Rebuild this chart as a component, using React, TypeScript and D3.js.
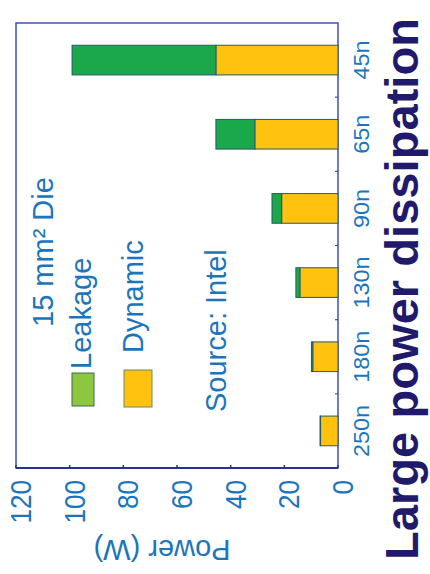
import React from 'react';
import * as d3 from 'd3';

// Process nodes, oldest to newest
const nodes = ['250n', '180n', '130n', '90n', '65n', '45n'];
// Power per 15 mm² die (W)
const dynamicW = [6.5, 9.4, 14.2, 21, 31, 45.5];
const leakageW = [0.2, 0.5, 1.5, 3.6, 14.5, 53.6];
const powerTicks = [0, 20, 40, 60, 80, 100, 120];

const seriesKeys = ['dynamic', 'leakage'];
const seriesNames = { dynamic: 'Dynamic', leakage: 'Leakage' };

const W = 430;
const H = 574;

const FONT = "'Liberation Sans', Arial, Helvetica, sans-serif";
const BLUE = '#1c75bc';
const NAVY = '#1f1a6b';
const FRAME = '#3f50b5';
const BAR_GREEN = '#1aa84b';
const BAR_YELLOW = '#ffc20e';
const BAR_EDGE = '#245a6c';

// Plot area in the landscape frame (before the quarter turn)
const plot = { left: 106, right: 551, top: 16, bottom: 338 };

export default function App() {
  const x = d3
    .scaleBand<string>()
    .domain(nodes)
    .range([plot.left, plot.right])
    .paddingInner(0.6)
    .paddingOuter(0.3);

  const y = d3.scaleLinear().domain([0, 120]).range([plot.bottom, plot.top]);

  const rows = nodes.map((n, i) => ({ node: n, dynamic: dynamicW[i], leakage: leakageW[i] }));
  const stacked = d3.stack<any>().keys(seriesKeys)(rows);

  const fills: Record<string, string> = { dynamic: BAR_YELLOW, leakage: BAR_GREEN };

  const step = x.step();
  const bw = x.bandwidth();
  const boundaries = nodes.slice(1).map((n) => (x(n) as number) - (step - bw) / 2);

  return (
    <svg
      width={W}
      height={H}
      viewBox={`0 0 ${W} ${H}`}
      style={{ position: 'absolute', left: 0, top: 0, background: '#fff' }}
    >
      <rect x={0} y={0} width={W} height={H} fill="#fff" />
      {/* landscape chart turned a quarter left */}
      <g transform={`translate(0,${H}) rotate(-90)`} style={{ fontFamily: FONT }}>
        {/* plot frame */}
        <rect
          x={plot.left}
          y={plot.top}
          width={plot.right - plot.left}
          height={plot.bottom - plot.top}
          fill="none"
          stroke={FRAME}
          strokeWidth={1.5}
        />
        {/* value axis */}
        <line x1={plot.left} x2={plot.left} y1={plot.top} y2={plot.bottom} stroke="#26308f" strokeWidth={2.2} />
        {powerTicks.map((t) => (
          <g key={t}>
            <line x1={plot.left} x2={plot.left + 3} y1={y(t)} y2={y(t)} stroke="#26308f" strokeWidth={1.5} />
            <text
              x={94}
              y={y(t) + 15}
              textAnchor="end"
              fontSize={29}
              fontFamily={FONT}
              fill={BLUE}
              textLength={String(t).length * 14.5}
              lengthAdjust="spacingAndGlyphs"
            >
              {t}
            </text>
          </g>
        ))}
        <text
          transform={`translate(34,162) rotate(-90)`}
          textAnchor="middle"
          fontSize={29}
          fontFamily={FONT}
          fill={BLUE}
        >
          Power (W)
        </text>

        {/* category axis */}
        {boundaries.map((b, i) => (
          <line key={i} x1={b} x2={b} y1={plot.bottom} y2={plot.bottom - 3} stroke={FRAME} strokeWidth={1.2} />
        ))}
        {nodes.map((n) => (
          <text
            key={n}
            x={(x(n) as number) + bw / 2}
            y={369}
            textAnchor="middle"
            fontSize={22}
            fontFamily={FONT}
            fill={BLUE}
            textLength={n.length * 13}
            lengthAdjust="spacingAndGlyphs"
          >
            {n}
          </text>
        ))}

        {/* stacked bars */}
        {stacked.map((s) => (
          <g key={s.key} fill={fills[s.key]}>
            {s.map((d, i) => {
              const h = y(d[0]) - y(d[1]);
              return (
                <rect
                  key={nodes[i]}
                  x={x(nodes[i])}
                  y={y(d[1])}
                  width={bw}
                  height={Math.max(h, 0)}
                  stroke={BAR_EDGE}
                  strokeWidth={1}
                />
              );
            })}
          </g>
        ))}

        {/* legend and notes */}
        <text x={247} y={53} fontSize={29} fontFamily={FONT} fill={BLUE}>
          15 mm² Die
        </text>
        <rect x={168} y={72} width={33} height={22} fill="#8dc63f" stroke="#3d6b58" strokeWidth={1} />
        <text x={205} y={91} fontSize={29} fontFamily={FONT} fill={BLUE}>
          {seriesNames.leakage}
        </text>
        <rect x={167} y={124} width={37} height={28} fill={BAR_YELLOW} stroke="#6b8a5e" strokeWidth={1} />
        <text x={221} y={143} fontSize={29} fontFamily={FONT} fill={BLUE}>
          {seriesNames.dynamic}
        </text>
        <text x={162} y={226} fontSize={29} fontFamily={FONT} fill={BLUE}>
          Source: Intel
        </text>

        {/* headline */}
        <text
          x={14}
          y={418}
          fontSize={46}
          fontWeight="bold"
          fontFamily={FONT}
          fill={NAVY}
          textLength={542}
          lengthAdjust="spacingAndGlyphs"
        >
          Large power dissipation
        </text>
      </g>
    </svg>
  );
}
